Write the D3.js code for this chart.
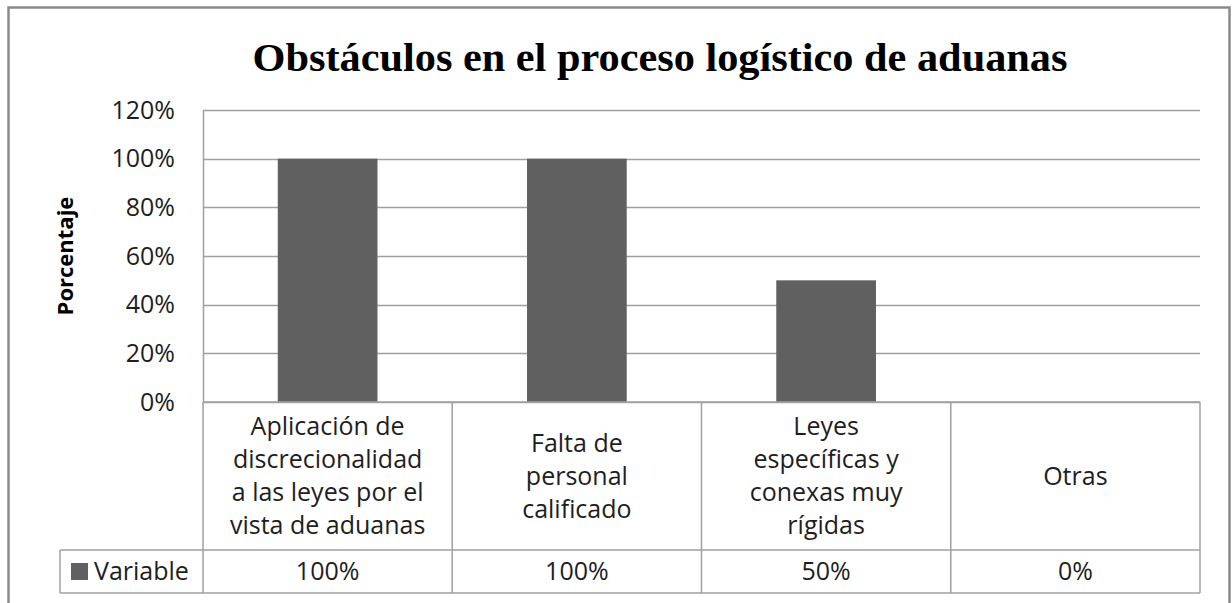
<!DOCTYPE html>
<html>
<head>
<meta charset="utf-8">
<script src="https://cdn.jsdelivr.net/npm/d3@7"></script>
<style>
  html, body { margin: 0; padding: 0; background: #ffffff; }
  svg { display: block; }
</style>
</head>
<body>
<script>
const title = "Obstáculos en el proceso logístico de aduanas";
const yAxisTitle = "Porcentaje";
const seriesName = "Variable";
const categories = [
  ["Aplicación de", "discrecionalidad", "a las leyes por el", "vista de aduanas"],
  ["Falta de", "personal", "calificado"],
  ["Leyes", "específicas y", "conexas muy", "rígidas"],
  ["Otras"]
];
const values = [1.00, 1.00, 0.50, 0.00];
const valueLabels = ["100%", "100%", "50%", "0%"];
const yTicks = [0, 0.2, 0.4, 0.6, 0.8, 1.0, 1.2];

const W = 1232, H = 603;
const plotLeft = 203, plotRight = 1200, plotTop = 110, plotBottom = 402;
const tableMid = 550, tableBottom = 593, legendLeft = 60;
const barColor = "#606060", gridColor = "#a0a0a0";
const font = "'Open Sans', Carlito, Calibri, sans-serif";
const fs = 25, txtColor = "#1e1e1e";

const svg = d3.select("body").append("svg").attr("width", W).attr("height", H);

// outer frame
svg.append("rect").attr("x", 8.5).attr("y", 7.5).attr("width", 1221).attr("height", 620)
  .attr("fill", "#fff").attr("stroke", "#8a8a8a").attr("stroke-width", 2.5);

const x = d3.scaleBand().domain(d3.range(categories.length)).range([plotLeft, plotRight]).paddingInner(0).paddingOuter(0);
const y = d3.scaleLinear().domain([0, 1.2]).range([plotBottom, plotTop]);

// gridlines
svg.append("g").selectAll("line").data(yTicks).join("line")
  .attr("x1", plotLeft).attr("x2", plotRight)
  .attr("y1", d => Math.round(y(d)) + 0.5).attr("y2", d => Math.round(y(d)) + 0.5)
  .attr("stroke", gridColor).attr("stroke-width", 1.5);

// y axis
const yAxis = d3.axisLeft(y).tickValues(yTicks).tickFormat(d3.format(".0%")).tickSize(0).tickPadding(28);
const gy = svg.append("g").attr("transform", `translate(${plotLeft},0)`).call(yAxis);
gy.attr("font-family", null).attr("font-size", null);
gy.select(".domain").attr("stroke", gridColor).attr("stroke-width", 1.5);
gy.selectAll("text").attr("font-family", font).attr("font-size", fs).attr("fill", txtColor);

// bars
const bw = x.bandwidth() * 0.4;
svg.append("g").selectAll("rect").data(values).join("rect")
  .attr("x", (d, i) => x(i) + (x.bandwidth() - bw) / 2)
  .attr("width", bw)
  .attr("y", d => y(d))
  .attr("height", d => y(0) - y(d))
  .attr("fill", barColor);

// data table
const tg = svg.append("g").attr("fill", "none").attr("stroke", gridColor).attr("stroke-width", 1.5);
x.domain().concat([categories.length]).forEach(i => {
  const xx = i < categories.length ? x(i) : plotRight;
  tg.append("line").attr("x1", xx).attr("x2", xx).attr("y1", plotBottom).attr("y2", tableBottom);
});
tg.append("line").attr("x1", legendLeft).attr("x2", plotRight).attr("y1", tableMid).attr("y2", tableMid);
tg.append("line").attr("x1", legendLeft).attr("x2", plotRight).attr("y1", tableBottom).attr("y2", tableBottom);
tg.append("line").attr("x1", legendLeft).attr("x2", legendLeft).attr("y1", tableMid).attr("y2", tableBottom);
tg.append("line").attr("x1", plotLeft).attr("x2", plotRight).attr("y1", plotBottom).attr("y2", plotBottom);

// category labels
const lineH = 33;
categories.forEach((lines, i) => {
  const cx = x(i) + x.bandwidth() / 2;
  const cy = (plotBottom + tableMid) / 2;
  const startY = cy - (lines.length - 1) * lineH / 2;
  const t = svg.append("text").attr("text-anchor", "middle").attr("font-family", font)
    .attr("font-size", fs).attr("fill", txtColor);
  lines.forEach((ln, j) => {
    t.append("tspan").attr("x", cx).attr("y", startY + j * lineH).attr("dy", "0.35em").text(ln);
  });
});

// value labels
svg.append("g").selectAll("text").data(valueLabels).join("text")
  .attr("x", (d, i) => x(i) + x.bandwidth() / 2)
  .attr("y", (tableMid + tableBottom) / 2).attr("dy", "0.35em")
  .attr("text-anchor", "middle").attr("font-family", font).attr("font-size", fs).attr("fill", txtColor)
  .text(d => d);

// legend key
svg.append("rect").attr("x", 71).attr("y", 563).attr("width", 17).attr("height", 17).attr("fill", barColor);
svg.append("text").attr("x", 94).attr("y", (tableMid + tableBottom) / 2).attr("dy", "0.35em")
  .attr("font-family", font).attr("font-size", fs).attr("fill", txtColor).text(seriesName);

// title
svg.append("text").attr("x", 660).attr("y", 71).attr("text-anchor", "middle")
  .attr("font-family", "'Liberation Serif', 'Times New Roman', serif").attr("font-weight", "bold")
  .attr("font-size", 40).attr("fill", "#000")
  .attr("textLength", 815).attr("lengthAdjust", "spacingAndGlyphs")
  .text(title);

// y axis title
svg.append("text").attr("transform", `translate(65,${(plotTop + plotBottom) / 2}) rotate(-90)`)
  .attr("text-anchor", "middle").attr("dy", "0.35em").attr("font-family", font).attr("font-weight", "bold")
  .attr("font-size", 22).attr("fill", "#000").text(yAxisTitle);
</script>
</body>
</html>
